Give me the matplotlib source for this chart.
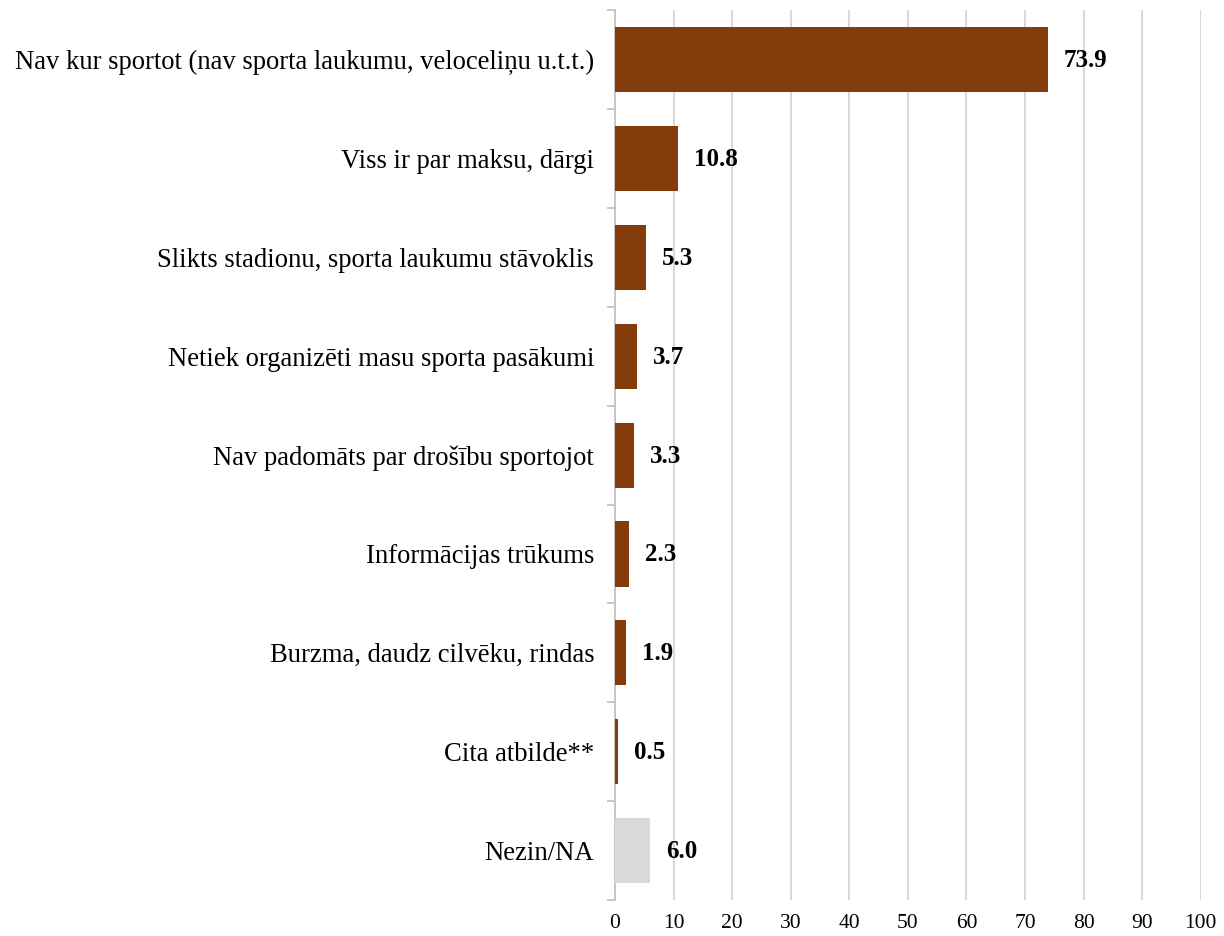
import matplotlib
matplotlib.use("Agg")
import matplotlib.pyplot as plt
from matplotlib.ticker import FixedLocator

categories = [
    "Nav kur sportot (nav sporta laukumu, veloceliņu u.t.t.)",
    "Viss ir par maksu, dārgi",
    "Slikts stadionu, sporta laukumu stāvoklis",
    "Netiek organizēti masu sporta pasākumi",
    "Nav padomāts par drošību sportojot",
    "Informācijas trūkums",
    "Burzma, daudz cilvēku, rindas",
    "Cita atbilde**",
    "Nezin/NA",
]
values = [73.9, 10.8, 5.3, 3.7, 3.3, 2.3, 1.9, 0.5, 6.0]
colors = ["#843c0c"] * 8 + ["#d9d9d9"]
x_ticks = [0, 10, 20, 30, 40, 50, 60, 70, 80, 90, 100]

plt.rcParams['font.family'] = ['Liberation Serif', 'DejaVu Serif']

fig = plt.figure(figsize=(12.24, 9.36), dpi=100)
ax = fig.add_axes([0.5025, 0.0385, 0.4785, 0.9505])

n = len(categories)
ypos = list(range(n))
ax.barh(ypos, values, height=0.66, color=colors, zorder=3)
ax.set_ylim(n - 0.5, -0.5)
ax.set_xlim(0, 100)
ax.set_xticks(x_ticks)
ax.set_xticklabels([str(t) for t in x_ticks], fontsize=15.5)
ax.tick_params(axis='x', length=0, pad=10)

ax.set_yticks(ypos)
ax.set_yticklabels(categories, fontsize=19.2)
ax.tick_params(axis='y', which='major', length=0, pad=15)
ax.yaxis.set_minor_locator(FixedLocator([i - 0.5 for i in range(n + 1)]))
ax.tick_params(axis='y', which='minor', length=6, color='#bfbfbf', width=1.2)

ax.grid(axis='x', color='#d9d9d9', linewidth=1.5, zorder=0)
for s in ['top', 'right', 'bottom']:
    ax.spines[s].set_visible(False)
ax.spines['left'].set_color('#bfbfbf')
ax.spines['left'].set_linewidth(1.2)

for y, v in zip(ypos, values):
    ax.annotate(f"{v:.1f}", xy=(v, y), xytext=(16, -1), textcoords='offset pixels',
                va='center', ha='left', fontsize=18, fontweight='bold')

fig.savefig("out.png", dpi=100)
